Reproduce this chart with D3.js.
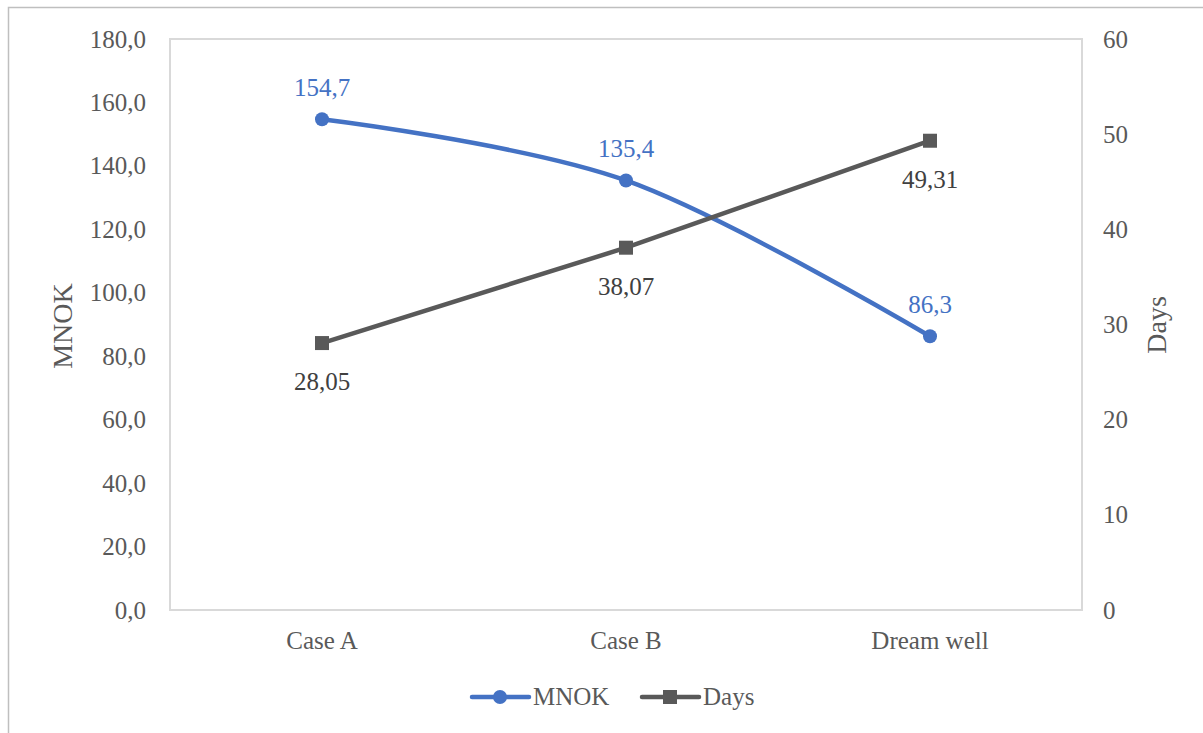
<!DOCTYPE html>
<html>
<head>
<meta charset="utf-8">
<script src="https://cdn.jsdelivr.net/npm/d3@7"></script>
<style>
  html, body { margin: 0; padding: 0; background: #ffffff; }
  svg { display: block; }
  svg text { font-family: "Liberation Serif", "Times New Roman", "DejaVu Serif", serif; }
</style>
</head>
<body>
<svg id="chart" width="1203" height="733"></svg>
<script>
// Cost (MNOK) and duration (Days) per well case
const categories = ["Case A", "Case B", "Dream well"];
const mnokValues = [154.7, 135.4, 86.3];
const daysValues = [28.05, 38.07, 49.31];
const mnokTicks = [0, 20, 40, 60, 80, 100, 120, 140, 160, 180];
const daysTicks = [0, 10, 20, 30, 40, 50, 60];

const blue = "#4472C4";
const gray = "#595959";
const textGray = "#595959";
const fontFamily = "\"Liberation Serif\", \"Times New Roman\", \"DejaVu Serif\", serif";
const labelSize = "25px";

const svg = d3.select("#chart");

// Outer chart frame
svg.append("rect")
  .attr("x", 8.5).attr("y", 7.5)
  .attr("width", 1300).attr("height", 800)
  .attr("fill", "none")
  .attr("stroke", "#bfbfbf")
  .attr("stroke-width", 1.5);

const plot = { left: 170, right: 1082, top: 39, bottom: 610 };

const x = d3.scaleBand()
  .domain(categories)
  .range([plot.left, plot.right])
  .paddingInner(0).paddingOuter(0);

const yL = d3.scaleLinear().domain([0, 180]).range([plot.bottom, plot.top]);
const yR = d3.scaleLinear().domain([0, 60]).range([plot.bottom, plot.top]);

const cx = d => x(d) + x.bandwidth() / 2;

// Plot area frame
svg.append("rect")
  .attr("x", plot.left).attr("y", plot.top)
  .attr("width", plot.right - plot.left)
  .attr("height", plot.bottom - plot.top)
  .attr("fill", "none")
  .attr("stroke", "#d9d9d9")
  .attr("stroke-width", 2);

function styleAxisText(g) {
  g.select(".domain").remove();
  g.attr("font-family", fontFamily);
  g.selectAll("text")
    .attr("fill", textGray)
    .style("font-family", fontFamily)
    .style("font-size", labelSize);
}

// Left axis
svg.append("g")
  .attr("transform", `translate(${plot.left},0)`)
  .call(d3.axisLeft(yL).tickValues(mnokTicks).tickSize(0).tickPadding(24)
    .tickFormat(d => d3.format(".1f")(d).replace(".", ",")))
  .call(styleAxisText);

// Right axis
svg.append("g")
  .attr("transform", `translate(${plot.right},0)`)
  .call(d3.axisRight(yR).tickValues(daysTicks).tickSize(0).tickPadding(21)
    .tickFormat(d3.format("d")))
  .call(styleAxisText);

// Category axis
svg.append("g")
  .attr("transform", `translate(0,${plot.bottom})`)
  .call(d3.axisBottom(x).tickSize(0).tickPadding(21))
  .call(styleAxisText);

// Axis titles
svg.append("text")
  .attr("transform", "translate(72,326) rotate(-90)")
  .attr("text-anchor", "middle")
  .attr("fill", textGray)
  .style("font-family", fontFamily)
  .style("font-size", "28px")
  .text("MNOK");

svg.append("text")
  .attr("transform", "translate(1166,325) rotate(-90)")
  .attr("text-anchor", "middle")
  .attr("fill", textGray)
  .style("font-family", fontFamily)
  .style("font-size", "28px")
  .text("Days");

const mnokData = categories.map((c, i) => ({ c, v: mnokValues[i] }));
const daysData = categories.map((c, i) => ({ c, v: daysValues[i] }));

// MNOK series (smoothed)
svg.append("path")
  .datum(mnokData)
  .attr("fill", "none")
  .attr("stroke", blue)
  .attr("stroke-width", 4.5)
  .attr("stroke-linecap", "round")
  .attr("d", d3.line().x(d => cx(d.c)).y(d => yL(d.v)).curve(d3.curveCardinal.tension(0)));

// Days series (straight)
svg.append("path")
  .datum(daysData)
  .attr("fill", "none")
  .attr("stroke", gray)
  .attr("stroke-width", 4.5)
  .attr("stroke-linecap", "round")
  .attr("d", d3.line().x(d => cx(d.c)).y(d => yR(d.v)));

svg.selectAll(".mnok-pt")
  .data(mnokData).enter().append("circle")
  .attr("cx", d => cx(d.c)).attr("cy", d => yL(d.v))
  .attr("r", 7).attr("fill", blue);

svg.selectAll(".days-pt")
  .data(daysData).enter().append("rect")
  .attr("x", d => cx(d.c) - 7).attr("y", d => yR(d.v) - 7)
  .attr("width", 14).attr("height", 14).attr("fill", gray);

// Data labels
const fmt = (v, digits) => d3.format(`.${digits}f`)(v).replace(".", ",");

svg.selectAll(".mnok-lbl")
  .data(mnokData).enter().append("text")
  .attr("x", d => cx(d.c)).attr("y", d => yL(d.v) - 23)
  .attr("text-anchor", "middle")
  .attr("fill", blue)
  .style("font-family", fontFamily)
  .style("font-size", labelSize)
  .text(d => fmt(d.v, 1));

svg.selectAll(".days-lbl")
  .data(daysData).enter().append("text")
  .attr("x", d => cx(d.c)).attr("y", d => yR(d.v) + 47)
  .attr("text-anchor", "middle")
  .attr("fill", "#404040")
  .style("font-family", fontFamily)
  .style("font-size", labelSize)
  .text(d => fmt(d.v, 2));

// Legend
const legend = svg.append("g").attr("transform", "translate(0,697)");
const legendItems = [
  { name: "MNOK", color: blue, x0: 472, shape: "circle" },
  { name: "Days", color: gray, x0: 642, shape: "square" }
];
legendItems.forEach(it => {
  legend.append("line")
    .attr("x1", it.x0).attr("x2", it.x0 + 57)
    .attr("y1", 0).attr("y2", 0)
    .attr("stroke", it.color).attr("stroke-width", 4.5)
    .attr("stroke-linecap", "round");
  if (it.shape === "circle") {
    legend.append("circle").attr("cx", it.x0 + 28).attr("cy", 0).attr("r", 7).attr("fill", it.color);
  } else {
    legend.append("rect").attr("x", it.x0 + 21).attr("y", -7).attr("width", 14).attr("height", 14).attr("fill", it.color);
  }
  legend.append("text")
    .attr("x", it.x0 + 61).attr("y", 8)
    .attr("fill", textGray)
    .style("font-family", fontFamily)
    .style("font-size", labelSize)
    .text(it.name);
});
</script>
</body>
</html>
